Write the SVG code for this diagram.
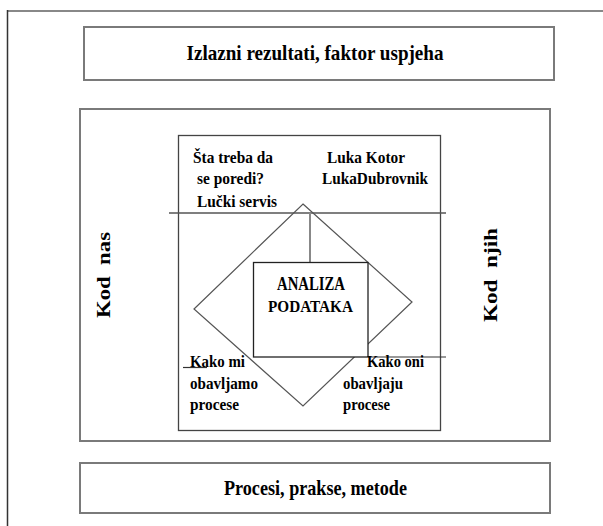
<svg xmlns="http://www.w3.org/2000/svg" width="603" height="526" viewBox="0 0 603 526">
<style>
.box{fill:#fff;stroke:#7a7a7a;stroke-width:2}
.t{font-family:"Liberation Serif","Times New Roman",serif;font-weight:bold;fill:#000}
.m{font-size:16.5px}
</style>
<rect width="603" height="526" fill="#fff"/>
<g id="frame">
<line x1="7.5" y1="11" x2="603" y2="11" stroke="#888" stroke-width="2"/>
<line x1="7.5" y1="10" x2="7.5" y2="526" stroke="#333" stroke-width="1.5"/>
</g>
<g id="izlazni">
<rect class="box" x="84" y="27" width="470" height="53"/>
<text class="t" x="315" y="60" font-size="22" text-anchor="middle" textLength="257" lengthAdjust="spacingAndGlyphs">Izlazni rezultati, faktor uspjeha</text>
</g>
<g id="okvir">
<rect class="box" x="80" y="109" width="470" height="332"/>
<text class="t" transform="translate(110,275) rotate(-90)" font-size="19" text-anchor="middle" textLength="86" lengthAdjust="spacingAndGlyphs" xml:space="preserve">Kod  nas</text>
<text class="t" transform="translate(497,275) rotate(-90)" font-size="19" text-anchor="middle" textLength="94" lengthAdjust="spacingAndGlyphs" xml:space="preserve">Kod  njih</text>
</g>
<g id="unutrasnji">
<rect x="178.5" y="135.5" width="262" height="295" fill="#fff" stroke="#444" stroke-width="1.3"/>
<text class="t m" x="193" y="163" textLength="80" lengthAdjust="spacingAndGlyphs">Šta treba da</text>
<text class="t m" x="197" y="184" textLength="67" lengthAdjust="spacingAndGlyphs">se poredi?</text>
<text class="t m" x="197" y="207" textLength="80" lengthAdjust="spacingAndGlyphs">Lučki servis</text>
<text class="t m" x="327" y="163" textLength="78" lengthAdjust="spacingAndGlyphs">Luka Kotor</text>
<text class="t m" x="322" y="184" textLength="106" lengthAdjust="spacingAndGlyphs">LukaDubrovnik</text>
</g>
<g id="romb">
<polygon points="303,204 412,302 303,406 194,309" fill="none" stroke="#555" stroke-width="1.2"/>
</g>
<g id="connectors">
<line x1="169" y1="213" x2="446" y2="213" stroke="#555" stroke-width="1.5"/>
<line x1="310" y1="213" x2="310" y2="262" stroke="#888" stroke-width="2"/>
<line x1="368" y1="357" x2="446" y2="357" stroke="#333" stroke-width="1.2"/>
<line x1="183" y1="367.5" x2="207" y2="367.5" stroke="#333" stroke-width="1.2"/>
</g>
<g id="analiza">
<rect x="253.5" y="262.5" width="114.5" height="94.5" fill="#fff" stroke="#222" stroke-width="1.3"/>
<text class="t" x="311" y="290" font-size="18" text-anchor="middle" textLength="68" lengthAdjust="spacingAndGlyphs">ANALIZA</text>
<text class="t" x="310.5" y="312" font-size="17" text-anchor="middle" textLength="85" lengthAdjust="spacingAndGlyphs">PODATAKA</text>
</g>
<g id="kako-mi">
<text class="t m" x="190" y="367" textLength="55" lengthAdjust="spacingAndGlyphs">Kako mi</text>
<text class="t m" x="190" y="389" textLength="68" lengthAdjust="spacingAndGlyphs">obavljamo</text>
<text class="t m" x="190" y="410" textLength="49" lengthAdjust="spacingAndGlyphs">procese</text>
</g>
<g id="kako-oni">
<text class="t m" x="367" y="367" textLength="57" lengthAdjust="spacingAndGlyphs">Kako oni</text>
<text class="t m" x="343" y="389" textLength="60" lengthAdjust="spacingAndGlyphs">obavljaju</text>
<text class="t m" x="343" y="410" textLength="47" lengthAdjust="spacingAndGlyphs">procese</text>
</g>
<g id="procesi">
<rect class="box" x="80" y="463" width="470" height="50"/>
<text class="t" x="315.5" y="495" font-size="21" text-anchor="middle" textLength="183" lengthAdjust="spacingAndGlyphs">Procesi, prakse, metode</text>
</g>
</svg>
